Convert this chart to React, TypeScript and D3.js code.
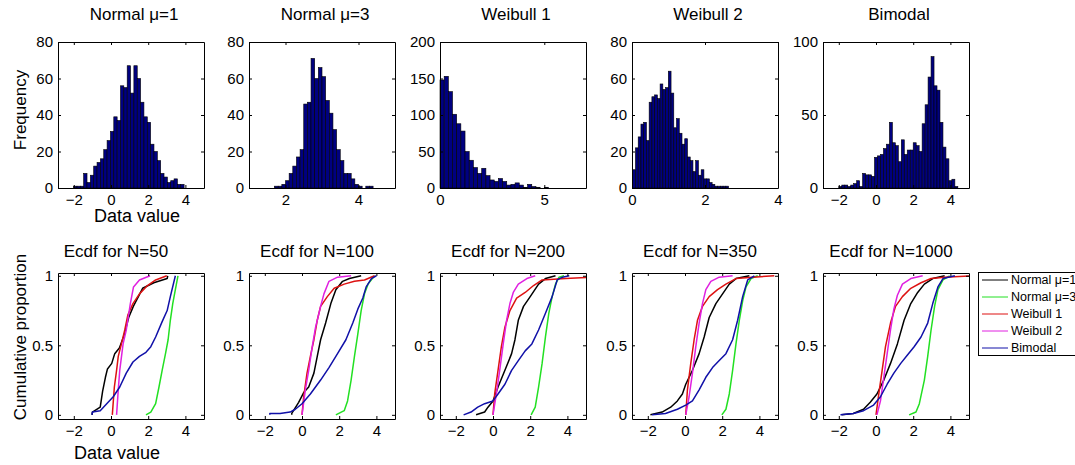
import React, { useEffect, useRef } from 'react';
import * as d3 from 'd3';

// ---- histogram data (top row) ----
const histTitles = ['Normal \u03bc=1', 'Normal \u03bc=3', 'Weibull 1', 'Weibull 2', 'Bimodal'];
const histXDomains = [[-2.85, 5], [1, 5], [0, 7], [0, 4], [-2.85, 5]];
const histYMax = [80, 80, 200, 80, 100];
const histXTicks = [[-2, 0, 2, 4], [2, 4], [0, 5], [0, 2, 4], [-2, 0, 2, 4]];
const histYTicks = [[0, 20, 40, 60, 80], [0, 20, 40, 60, 80], [0, 50, 100, 150, 200], [0, 20, 40, 60, 80], [0, 50, 100]];
// first bin edge and bin width for each histogram
const histStart = [-2.01, 1.7, 0, 0.02, -2.0];
const histBinWidth = [0.18, 0.1, 0.2, 0.075, 0.16];

const normal1Counts = [1, 1, 1, 8, 3, 7, 12, 14, 16, 21, 26, 31, 39, 37, 56, 55, 67, 52, 67, 60, 47, 39, 36, 24, 20, 15, 8, 6, 3, 4, 5, 2, 2];
const normal3Counts = [1, 1, 2, 4, 8, 12, 17, 21, 46, 47, 71, 60, 66, 61, 48, 41, 32, 21, 15, 8, 8, 5, 2, 1, 0, 1, 1];
const weibull1Counts = [148, 153, 132, 101, 88, 78, 50, 38, 28, 20, 27, 17, 11, 9, 13, 9, 4, 5, 7, 4, 1, 5, 2, 1, 0, 1];
const weibull2Counts = [10, 22, 28, 35, 36, 26, 47, 50, 51, 49, 57, 54, 55, 64, 52, 33, 38, 30, 24, 27, 17, 15, 9, 15, 7, 10, 5, 5, 3, 2, 1, 1, 1, 1, 1];
const bimodalCounts = [1, 2, 2, 1, 2, 3, 5, 1, 10, 9, 9, 8, 21, 22, 23, 27, 30, 45, 31, 29, 18, 33, 23, 26, 26, 31, 29, 25, 44, 57, 76, 90, 70, 67, 45, 28, 20, 5, 6, 1];
const histCounts = [normal1Counts, normal3Counts, weibull1Counts, weibull2Counts, bimodalCounts];

// ---- ecdf data (bottom row), [value, cumulative proportion] read per sample size ----
const ecdfN = [50, 100, 200, 350, 1000];
const ecdfNormal1 = [
  [[-1.02, 0], [-1.0, 0.02], [-0.58, 0.055], [-0.45, 0.17], [-0.3, 0.27], [-0.19, 0.33], [0.04, 0.37], [0.2, 0.44], [0.45, 0.48], [0.7, 0.57], [0.95, 0.7], [1.2, 0.78], [1.7, 0.91], [2.3, 0.95], [3.02, 0.98], [3.05, 1]],
  [[-0.55, 0], [-0.55, 0.01], [-0.18, 0.09], [0.09, 0.16], [0.36, 0.2], [0.64, 0.3], [0.82, 0.42], [1.0, 0.54], [1.27, 0.66], [1.55, 0.8], [1.82, 0.9], [2.18, 0.96], [2.55, 0.98], [3.18, 1]],
  [[-0.91, 0], [-0.45, 0.02], [-0.27, 0.055], [0, 0.1], [0.27, 0.2], [0.64, 0.32], [1.0, 0.44], [1.18, 0.54], [1.36, 0.68], [1.64, 0.78], [2.0, 0.85], [2.45, 0.94], [2.82, 0.98], [3.36, 1]],
  [[-1.86, 0], [-1.23, 0.02], [-0.77, 0.055], [-0.41, 0.1], [-0.14, 0.15], [0.04, 0.22], [0.4, 0.32], [0.76, 0.44], [1.03, 0.56], [1.3, 0.7], [1.66, 0.8], [2.02, 0.87], [2.38, 0.94], [2.74, 0.98], [3.46, 1]],
  [[-1.85, 0], [-1.22, 0.01], [-0.67, 0.04], [-0.31, 0.09], [0.05, 0.15], [0.42, 0.25], [0.78, 0.37], [1.15, 0.51], [1.51, 0.68], [1.87, 0.8], [2.24, 0.88], [2.6, 0.94], [3.05, 0.98], [3.69, 1]],
];
const ecdfNormal3 = [
  [[1.88, 0], [2.14, 0.02], [2.4, 0.08], [2.58, 0.2], [2.75, 0.32], [2.93, 0.44], [3.07, 0.54], [3.19, 0.68], [3.32, 0.8], [3.46, 0.9], [3.6, 1]],
  [[1.82, 0], [2.27, 0.03], [2.45, 0.1], [2.64, 0.25], [2.82, 0.42], [3.0, 0.58], [3.18, 0.75], [3.36, 0.87], [3.55, 0.94], [3.9, 1]],
  [[2.05, 0], [2.27, 0.055], [2.45, 0.2], [2.64, 0.37], [2.82, 0.56], [3.0, 0.73], [3.18, 0.85], [3.36, 0.94], [3.55, 0.99], [3.82, 1]],
  [[1.98, 0], [2.2, 0.04], [2.38, 0.15], [2.56, 0.32], [2.74, 0.51], [2.92, 0.68], [3.1, 0.82], [3.28, 0.92], [3.55, 0.98], [3.91, 1]],
  [[1.78, 0], [2.15, 0.02], [2.33, 0.08], [2.6, 0.25], [2.78, 0.42], [2.96, 0.61], [3.15, 0.78], [3.33, 0.9], [3.6, 0.97], [3.96, 1]],
];
const ecdfWeibull1 = [
  [[0.07, 0], [0.18, 0.2], [0.3, 0.32], [0.39, 0.42], [0.56, 0.51], [0.74, 0.61], [0.91, 0.72], [1.18, 0.8], [1.53, 0.87], [1.96, 0.93], [2.4, 0.97], [3.0, 1]],
  [[0, 0], [0.09, 0.13], [0.27, 0.3], [0.45, 0.42], [0.64, 0.54], [0.82, 0.68], [1.0, 0.78], [1.36, 0.85], [1.73, 0.91], [2.27, 0.94], [2.82, 0.96], [3.36, 0.97], [3.9, 1]],
  [[0, 0], [0.09, 0.15], [0.27, 0.32], [0.45, 0.49], [0.64, 0.63], [0.91, 0.75], [1.27, 0.84], [1.73, 0.88], [2.18, 0.93], [2.64, 0.97], [3.9, 0.98], [5.3, 0.99]],
  [[0.04, 0], [0.13, 0.18], [0.31, 0.37], [0.49, 0.54], [0.67, 0.68], [0.94, 0.78], [1.3, 0.85], [1.75, 0.9], [2.2, 0.94], [2.74, 0.98], [3.64, 0.99], [4.8, 1]],
  [[0, 0], [0.15, 0.15], [0.33, 0.32], [0.51, 0.49], [0.78, 0.66], [1.05, 0.78], [1.42, 0.85], [1.87, 0.91], [2.42, 0.95], [2.96, 0.98], [3.69, 0.99], [5.3, 1]],
];
const ecdfWeibull2 = [
  [[0.3, 0], [0.39, 0.18], [0.47, 0.32], [0.65, 0.51], [0.82, 0.61], [1.04, 0.8], [1.21, 0.92], [1.53, 0.97], [2.1, 1]],
  [[0, 0], [0.18, 0.18], [0.36, 0.32], [0.55, 0.49], [0.73, 0.63], [1.0, 0.78], [1.18, 0.87], [1.45, 0.96], [1.91, 0.99], [2.64, 1]],
  [[0, 0], [0.18, 0.15], [0.36, 0.32], [0.55, 0.51], [0.73, 0.68], [0.91, 0.8], [1.09, 0.88], [1.36, 0.94], [1.82, 0.98], [2.27, 1]],
  [[0.04, 0], [0.22, 0.13], [0.4, 0.3], [0.58, 0.49], [0.76, 0.66], [0.94, 0.8], [1.12, 0.9], [1.39, 0.96], [1.84, 0.99], [2.56, 1]],
  [[0.05, 0], [0.24, 0.1], [0.42, 0.27], [0.6, 0.44], [0.78, 0.61], [0.96, 0.76], [1.15, 0.86], [1.42, 0.94], [1.87, 0.98], [2.51, 1]],
];
const ecdfBimodal = [
  [[-1.02, 0], [-1.0, 0.02], [-0.58, 0.03], [-0.23, 0.08], [0.12, 0.13], [0.47, 0.2], [0.82, 0.3], [1.18, 0.38], [1.53, 0.42], [1.88, 0.45], [2.14, 0.49], [2.4, 0.56], [2.75, 0.67], [3.02, 0.75], [3.19, 0.85], [3.37, 0.95], [3.46, 1]],
  [[-1.73, 0], [-1.73, 0.01], [-1.18, 0.01], [-0.64, 0.02], [-0.36, 0.04], [0, 0.08], [0.45, 0.15], [1.0, 0.25], [1.45, 0.34], [1.91, 0.44], [2.36, 0.54], [2.73, 0.66], [3.0, 0.76], [3.27, 0.84], [3.45, 0.92], [3.73, 0.98], [4.0, 1]],
  [[-1.58, 0], [-1.18, 0.02], [-0.82, 0.055], [-0.45, 0.08], [0, 0.1], [0.27, 0.15], [0.64, 0.22], [1.0, 0.32], [1.36, 0.39], [1.73, 0.46], [2.09, 0.51], [2.45, 0.61], [2.82, 0.73], [3.18, 0.85], [3.45, 0.97], [3.73, 0.99], [4.1, 1]],
  [[-1.77, 0], [-1.05, 0.01], [-0.41, 0.04], [0.04, 0.07], [0.4, 0.1], [0.76, 0.18], [1.12, 0.27], [1.48, 0.34], [1.84, 0.39], [2.2, 0.44], [2.56, 0.54], [2.83, 0.68], [3.1, 0.85], [3.37, 0.97], [3.73, 1]],
  [[-1.91, 0], [-1.22, 0.01], [-0.67, 0.03], [-0.13, 0.07], [0.24, 0.13], [0.6, 0.22], [0.96, 0.3], [1.33, 0.37], [1.69, 0.43], [2.05, 0.49], [2.42, 0.56], [2.78, 0.66], [3.05, 0.8], [3.33, 0.92], [3.6, 0.98], [4.24, 1]],
];
const ecdfSeries = [ecdfNormal1, ecdfNormal3, ecdfWeibull1, ecdfWeibull2, ecdfBimodal];
const seriesNames = ['Normal \u03bc=1', 'Normal \u03bc=3', 'Weibull 1', 'Weibull 2', 'Bimodal'];
const seriesColors = ['#000000', '#22e022', '#dd1111', '#e020e0', '#1010a8'];
const ecdfXDomain = [-2.85, 5];
const ecdfYDomain = [-0.03, 1.02];
const ecdfXTicks = [-2, 0, 2, 4];
const ecdfYTicks = [0, 0.5, 1];

const W = 1075;
const H = 465;
const FONT = '"Liberation Sans", Arial, Helvetica, sans-serif';
const colLeft = [58, 249, 440, 632, 823];
const panelW = 146;
const topRow = { y0: 42, y1: 188 };
const botRow = { y0: 273, y1: 419 };

// box with inward ticks on all four sides, labels on left and bottom
function drawFrame(g, x, y, xTicks, yTicks) {
  const [x0, x1] = x.range();
  const [yb, yt] = y.range();
  const style = (sel) => {
    sel.attr('font-family', FONT).attr('font-size', 15);
    sel.selectAll('path,line').attr('stroke', '#000');
    sel.selectAll('text').attr('fill', '#000');
  };
  g.append('g').attr('transform', `translate(0,${yb})`)
    .call(d3.axisBottom(x).tickValues(xTicks).tickSizeInner(-3).tickSizeOuter(0).tickPadding(6).tickFormat(d3.format('~g')))
    .call(style);
  g.append('g').attr('transform', `translate(0,${yt})`)
    .call(d3.axisTop(x).tickValues(xTicks).tickSizeInner(-3).tickSizeOuter(0).tickFormat(() => ''))
    .call(style);
  g.append('g').attr('transform', `translate(${x0},0)`)
    .call(d3.axisLeft(y).tickValues(yTicks).tickSizeInner(-3).tickSizeOuter(0).tickPadding(5).tickFormat(d3.format('~g')))
    .call(style);
  g.append('g').attr('transform', `translate(${x1},0)`)
    .call(d3.axisRight(y).tickValues(yTicks).tickSizeInner(-3).tickSizeOuter(0).tickFormat(() => ''))
    .call(style);
}

export default function App() {
  const svgRef = useRef(null);

  useEffect(() => {
    const svg = d3.select(svgRef.current);
    svg.selectAll('*').remove();
    svg.append('rect').attr('width', W).attr('height', H).attr('fill', '#fff');

    // Top row: histograms
    histCounts.forEach((counts, p) => {
      const x = d3.scaleLinear().domain(histXDomains[p]).range([colLeft[p], colLeft[p] + panelW]);
      const y = d3.scaleLinear().domain([0, histYMax[p]]).range([topRow.y1, topRow.y0]);
      const g = svg.append('g');
      const bins = counts.map((c, i) => ({
        a: histStart[p] + i * histBinWidth[p],
        b: histStart[p] + (i + 1) * histBinWidth[p],
        c,
      })).filter(d => d.c > 0);
      g.selectAll('rect.bar').data(bins).enter().append('rect')
        .attr('class', 'bar')
        .attr('x', d => x(d.a))
        .attr('width', d => x(d.b) - x(d.a))
        .attr('y', d => y(d.c))
        .attr('height', d => y(0) - y(d.c))
        .attr('fill', '#000080')
        .attr('stroke', '#000')
        .attr('stroke-width', 0.6);
      drawFrame(g, x, y, histXTicks[p], histYTicks[p]);
      g.append('text')
        .attr('x', colLeft[p] + panelW / 2 + 3)
        .attr('y', 20)
        .attr('text-anchor', 'middle')
        .attr('font-family', FONT)
        .attr('font-size', 17)
        .text(histTitles[p]);
    });

    // Bottom row: ecdfs
    const line = d3.line().curve(d3.curveLinear);
    const titleShift = [-15, -5, -5, -5, -5];
    ecdfN.forEach((n, p) => {
      const x = d3.scaleLinear().domain(ecdfXDomain).range([colLeft[p], colLeft[p] + panelW]);
      const y = d3.scaleLinear().domain(ecdfYDomain).range([botRow.y1, botRow.y0]);
      const g = svg.append('g');
      const clipId = `clip-${p}`;
      g.append('clipPath').attr('id', clipId).append('rect')
        .attr('x', colLeft[p]).attr('y', botRow.y0)
        .attr('width', panelW).attr('height', botRow.y1 - botRow.y0);
      const lines = g.append('g').attr('clip-path', `url(#${clipId})`);
      ecdfSeries.forEach((s, k) => {
        lines.append('path')
          .attr('d', line(s[p].map(([v, q]) => [x(v), y(q)])))
          .attr('fill', 'none')
          .attr('stroke', seriesColors[k])
          .attr('stroke-width', 1.5)
          .attr('stroke-linejoin', 'round');
      });
      drawFrame(g, x, y, ecdfXTicks, ecdfYTicks);
      g.append('text')
        .attr('x', colLeft[p] + panelW / 2 + titleShift[p])
        .attr('y', 257)
        .attr('text-anchor', 'middle')
        .attr('font-family', FONT)
        .attr('font-size', 17)
        .text(`Ecdf for N=${n}`);
    });

    // Axis labels
    const label = (txt, tx, ty, rot) => svg.append('text')
      .attr('transform', `translate(${tx},${ty}) rotate(${rot})`)
      .attr('text-anchor', 'middle')
      .attr('dominant-baseline', rot ? 'central' : 'auto')
      .attr('font-family', FONT)
      .attr('font-size', rot ? 17 : 18)
      .text(txt);
    label('Frequency', 20, 110, -90);
    label('Cumulative proportion', 20, 337, -90);
    label('Data value', 137, 222, 0);
    label('Data value', 117, 459, 0);

    // Legend (runs past the right edge, as in the original)
    const lg = svg.append('g');
    lg.append('rect')
      .attr('x', 978.5).attr('y', 272.5)
      .attr('width', 110).attr('height', 83)
      .attr('fill', '#fff').attr('stroke', '#000');
    seriesNames.forEach((name, k) => {
      const yy = 280 + k * 17;
      lg.append('line')
        .attr('x1', 982).attr('x2', 1008)
        .attr('y1', yy).attr('y2', yy)
        .attr('stroke', seriesColors[k]).attr('stroke-width', 1);
      lg.append('text')
        .attr('x', 1011).attr('y', yy)
        .attr('dominant-baseline', 'central')
        .attr('font-family', FONT)
        .attr('font-size', 12.5)
        .text(name);
    });
  }, []);

  return (
    <svg
      ref={svgRef}
      width={W}
      height={H}
      style={{ position: 'absolute', left: 0, top: 0, display: 'block' }}
    />
  );
}
